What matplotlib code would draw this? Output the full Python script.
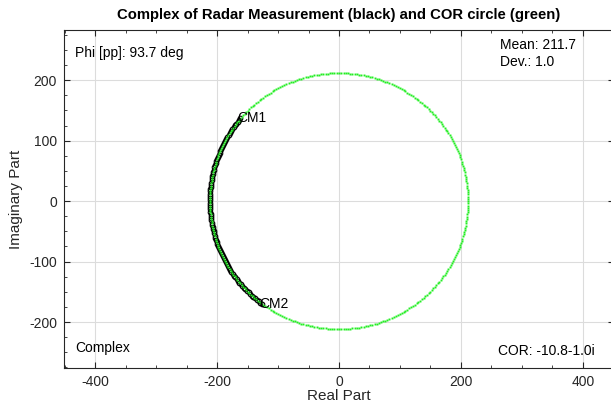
import numpy as np
import matplotlib.pyplot as plt
from matplotlib.ticker import AutoMinorLocator

plt.rcParams['font.family'] = ['Liberation Sans', 'DejaVu Sans']
plt.rcParams['axes.unicode_minus'] = False

# values
mean_radius = 211.7
deviation = 1.0
phi_span = 93.7
cm1_angle = 139.8          # deg, start of measurement arc (CM1)
cor_text = "-10.8-1.0i"
x_ticks = [-400, -200, 0, 200, 400]
y_ticks = [-200, -100, 0, 100, 200]

# measurement samples along the arc (1 deg steps) and the COR circle
meas_angles = np.deg2rad(np.linspace(cm1_angle, cm1_angle + phi_span, 95))
meas = mean_radius * np.exp(1j * meas_angles)
circ_angles = np.deg2rad(np.arange(0, 360, 1.0))
circ = mean_radius * np.exp(1j * circ_angles)

fig = plt.figure(figsize=(6.11, 4.12), dpi=100)
ax = fig.add_axes([64 / 611, 44 / 412, 550 / 611, 338 / 412])

ax.plot(meas.real, meas.imag, 'o', mfc='none', mec='black', ms=3.3, mew=0.8)
ax.plot(circ.real, circ.imag, 's', color='#22ee22', ms=1.4, mew=0)

ax.text(meas.real[0] - 5, meas.imag[0], "CM1", ha='left', va='center', fontsize=10)
ax.text(meas.real[-1] - 5, meas.imag[-1], "CM2", ha='left', va='center', fontsize=10)

ax.text(0.02, 0.932, f"Phi [pp]: {phi_span:.1f} deg", transform=ax.transAxes,
        ha='left', va='center', fontsize=10)
ax.text(0.793, 0.955, f"Mean: {mean_radius:.1f}", transform=ax.transAxes,
        ha='left', va='center', fontsize=10)
ax.text(0.793, 0.905, f"Dev.: {deviation:.1f}", transform=ax.transAxes,
        ha='left', va='center', fontsize=10)
ax.text(0.02, 0.059, "Complex", transform=ax.transAxes,
        ha='left', va='center', fontsize=10)
ax.text(0.789, 0.05, f"COR: {cor_text}", transform=ax.transAxes,
        ha='left', va='center', fontsize=10)

ax.set_xlim(-451, 451)
ax.set_ylim(-276, 283)
ax.set_xticks(x_ticks)
ax.set_yticks(y_ticks)
ax.xaxis.set_minor_locator(AutoMinorLocator(4))
ax.yaxis.set_minor_locator(AutoMinorLocator(4))
ax.tick_params(which='both', direction='in', top=True, right=True,
               labelsize=10, colors='#262626')
ax.tick_params(which='major', length=4, pad=5)
ax.tick_params(which='minor', length=2)
ax.grid(True, which='major', color='#dcdcdc', linewidth=0.8)
ax.set_axisbelow(True)
for s in ax.spines.values():
    s.set_color('#262626')

ax.set_xlabel("Real Part", fontsize=11, labelpad=0, color='#262626')
ax.set_ylabel("Imaginary Part", fontsize=11, labelpad=4, color='#262626')
ax.set_title("Complex of Radar Measurement (black) and COR circle (green)",
             fontsize=10.7, fontweight='bold', pad=8)

fig.savefig("out.png", dpi=100)
